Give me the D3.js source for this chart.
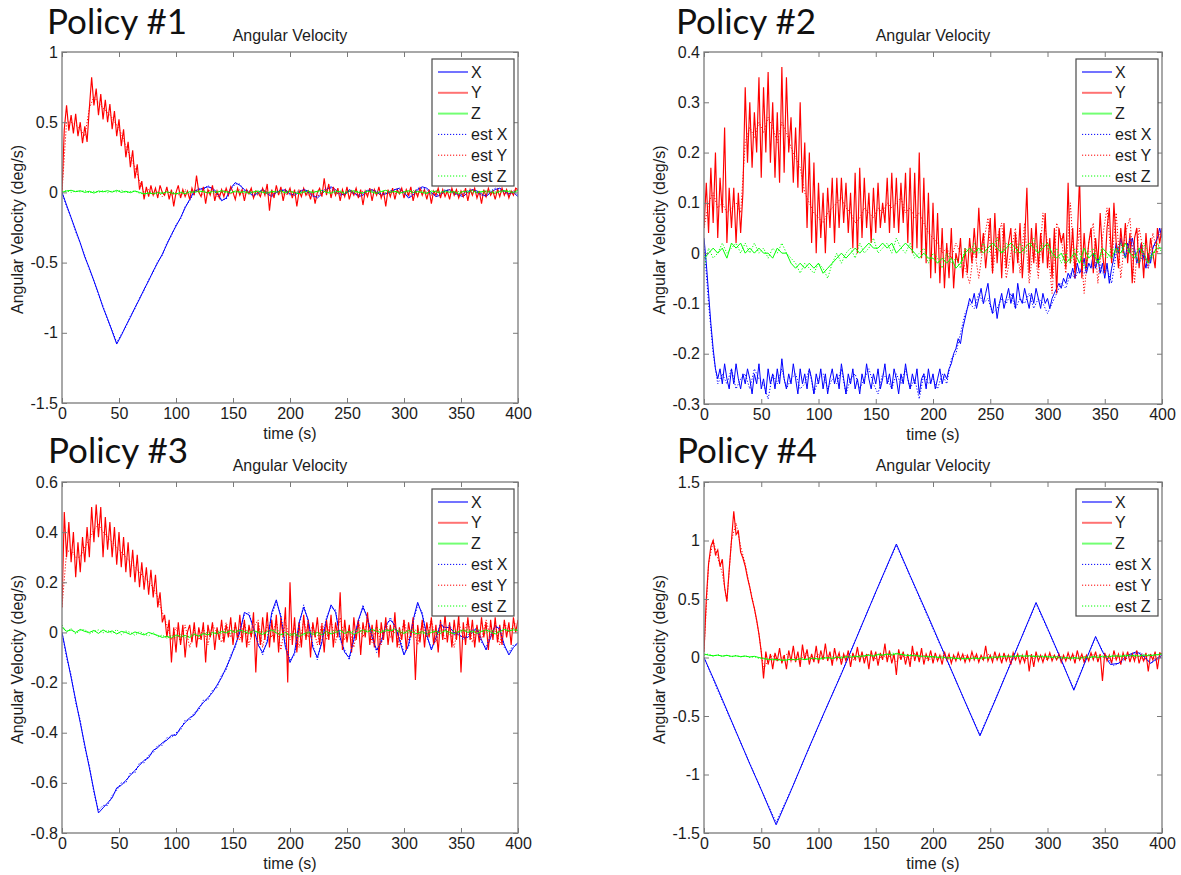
<!DOCTYPE html>
<html>
<head>
<meta charset="utf-8">
<script src="https://cdn.jsdelivr.net/npm/d3@7"></script>
<style>
  body { margin: 0; background: #fff; }
  svg { display: block; }
</style>
</head>
<body>
<svg id="chart" width="1181" height="875"></svg>
<script>
// ---------- shared axis data ----------
const timeDomain = [0, 400];
const timeTicks = [0, 50, 100, 150, 200, 250, 300, 350, 400];
const panelTitles = ["Policy #1", "Policy #2", "Policy #3", "Policy #4"];
const plotTitle = "Angular Velocity";
const xLabel = "time (s)";
const yLabel = "Angular Velocity (deg/s)";
const seriesNames = ["X", "Y", "Z", "est X", "est Y", "est Z"];

const yDomain1 = [-1.5, 1];
const yTicks1 = [-1.5, -1, -0.5, 0, 0.5, 1];
const yDomain2 = [-0.3, 0.4];
const yTicks2 = [-0.3, -0.2, -0.1, 0, 0.1, 0.2, 0.3, 0.4];
const yDomain3 = [-0.8, 0.6];
const yTicks3 = [-0.8, -0.6, -0.4, -0.2, 0, 0.2, 0.4, 0.6];
const yDomain4 = [-1.5, 1.5];
const yTicks4 = [-1.5, -1, -0.5, 0, 0.5, 1, 1.5];

// Arrays with 101 samples are every 4 s, arrays with 201 samples every 2 s.

// ---------- Policy #1 ----------
const x1 = [
  0, -0.09, -0.18, -0.27, -0.36, -0.46, -0.54, -0.63, -0.72, -0.82,
  -0.9, -0.99, -1.08, -1.02, -0.95, -0.89, -0.82, -0.76, -0.69, -0.63,
  -0.56, -0.5, -0.44, -0.37, -0.3, -0.24, -0.18, -0.11, -0.05, 0.01,
  0.02, 0.03, 0.04, 0.03, 0.0, -0.06, -0.04, 0.03, 0.07, 0.05,
  0.02, 0.0, -0.03, 0.0, 0.02, -0.01, -0.03, 0.0, 0.01, 0.02,
  -0.01, -0.02, 0.0, 0.02, 0.01, -0.02, -0.04, -0.01, 0.02, 0.04,
  0.02, -0.01, -0.02, 0.02, 0.0, -0.03, -0.02, 0.01, 0.02, 0.0,
  -0.02, -0.01, 0.0, 0.02, 0.03, 0.0, -0.04, -0.02, 0.02, 0.04,
  0.03, 0.0, -0.03, -0.02, 0.01, 0.02, 0.0, -0.02, -0.03, 0.0,
  0.02, 0.01, -0.01, -0.03, 0.0, 0.02, 0.03, 0.01, -0.01, 0.0,
  -0.03
];
const y1 = [
  0.0, 0.45, 0.62, 0.44, 0.55, 0.42, 0.56, 0.4, 0.5, 0.35,
  0.47, 0.36, 0.6, 0.82, 0.62, 0.74, 0.55, 0.7, 0.52, 0.66,
  0.5, 0.63, 0.45, 0.58, 0.4, 0.52, 0.33, 0.45, 0.25, 0.36,
  0.18, 0.3, 0.1, 0.2, 0.02, 0.08, -0.05, 0.04, -0.03, 0.05,
  -0.02, 0.03, -0.04, 0.05, 0.0, -0.02, 0.04, -0.05, 0.02, -0.1,
  0.0, 0.05, -0.04, 0.02, -0.03, 0.01, -0.05, 0.03, -0.02, 0.12,
  0.0, -0.03, 0.04, -0.08, 0.02, -0.02, 0.05, -0.06, 0.01, -0.04,
  0.02, -0.03, 0.03, -0.02, 0.04, 0.0, -0.05, 0.03, -0.02, 0.02,
  -0.06, 0.02, -0.01, 0.03, -0.04, 0.01, 0.0, -0.03, 0.03, -0.02,
  0.06, -0.13, 0.02, -0.04, 0.05, -0.02, 0.04, -0.06, 0.02, -0.01,
  0.03, -0.04, 0.02, -0.1, 0.01, -0.03, 0.03, -0.02, 0.01, -0.05,
  0.02, -0.08, 0.0, 0.03, -0.03, 0.1, -0.02, 0.06, -0.04, 0.04,
  -0.02, 0.03, -0.06, 0.02, -0.03, 0.04, -0.05, 0.01, -0.02, 0.03,
  -0.04, 0.02, -0.09, 0.01, -0.03, 0.03, -0.06, 0.02, -0.02, 0.04,
  -0.04, 0.01, -0.1, 0.02, -0.03, 0.03, -0.05, 0.02, -0.01, 0.03,
  -0.04, 0.02, -0.02, 0.04, -0.06, 0.01, -0.03, 0.03, -0.02, 0.02,
  -0.05, 0.02, -0.08, 0.01, -0.02, 0.03, -0.04, 0.02, -0.03, 0.01,
  -0.05, 0.03, -0.02, 0.02, -0.04, 0.01, -0.03, 0.03, -0.06, 0.02,
  -0.02, 0.03, -0.04, 0.01, -0.08, 0.02, -0.03, 0.03, -0.02, 0.01,
  -0.05, 0.02, -0.03, 0.03, -0.02, 0.02, -0.04, 0.01, -0.02, 0.03,
  0.02
];
const z1 = [
  0.0, 0.01, 0.015, 0.005, 0.012, 0.0, 0.008, -0.005, 0.01, 0.004,
  0.012, 0.002, 0.015, 0.0, 0.008, -0.002, 0.01, 0.0, -0.01, -0.005,
  -0.01, 0.0, -0.008, 0.005, -0.005, -0.012, 0.0, -0.01, 0.005, 0.0,
  0.01, 0.005, -0.005, 0.008, 0.0, 0.012, 0.005, -0.004, 0.01, 0.0,
  0.006, -0.008, 0.004, 0.01, 0.0, -0.006, 0.008, 0.002, 0.012, -0.004,
  0.006, 0.0, -0.01, 0.004, 0.01, -0.002, 0.008, 0.015, 0.0, -0.006,
  0.01, 0.004, -0.008, 0.006, 0.012, 0.0, -0.004, 0.01, 0.002, -0.008,
  0.006, 0.015, 0.0, 0.008, -0.006, 0.004, 0.012, -0.002, 0.006, 0.0,
  -0.008, 0.01, 0.004, -0.004, 0.012, 0.0, 0.006, -0.01, 0.008, 0.002,
  0.014, -0.004, 0.006, 0.01, 0.0, -0.006, 0.008, 0.012, 0.004, 0.0,
  0.015
];
const estX1 = [
  0, -0.1, -0.18, -0.28, -0.36, -0.45, -0.55, -0.63, -0.73, -0.81,
  -0.91, -0.98, -1.07, -1.01, -0.96, -0.88, -0.83, -0.75, -0.7, -0.62,
  -0.57, -0.49, -0.45, -0.36, -0.31, -0.23, -0.19, -0.1, -0.06, 0.0,
  0.03, 0.02, 0.05, 0.02, -0.01, -0.05, -0.05, 0.02, 0.06, 0.06,
  0.01, 0.01, -0.02, -0.01, 0.02, 0.0, -0.02, 0.0, 0.02, 0.01,
  -0.02, -0.01, 0.01, 0.02, 0.0, -0.03, -0.03, 0.01, 0.03, 0.03,
  0.0, -0.02, -0.01, 0.01, -0.01, -0.02, -0.01, 0.02, 0.01, 0.01,
  -0.01, -0.01, 0.01, 0.02, 0.02, -0.01, -0.03, -0.01, 0.03, 0.03,
  0.02, -0.01, -0.02, -0.01, 0.02, 0.01, -0.01, -0.02, -0.01, 0.01,
  0.02, 0.0, -0.02, -0.02, 0.01, 0.03, 0.02, 0.0, -0.02, 0.01,
  -0.02
];
const estY1 = [
  0.0, 0.5, 0.5, 0.48, 0.45, 0.4, 0.6, 0.68, 0.64, 0.6,
  0.57, 0.53, 0.48, 0.42, 0.33, 0.25, 0.18, 0.08, 0.0, 0.02,
  -0.02, 0.01, -0.03, 0.02, -0.02, 0.0, -0.03, 0.02, -0.01, 0.02,
  0.0, -0.02, 0.01, 0.02, -0.03, 0.0, 0.02, -0.01, 0.0, 0.02,
  -0.02, 0.01, 0.0, -0.02, 0.02, 0.0, -0.02, 0.01, 0.0, -0.02,
  0.01, -0.01, 0.02, 0.0, -0.02, 0.01, -0.03, 0.0, 0.03, 0.01,
  -0.01, 0.0, -0.02, 0.01, 0.0, -0.02, 0.01, -0.01, 0.02, 0.0,
  -0.02, 0.0, 0.01, -0.01, 0.02, 0.0, -0.02, 0.01, -0.01, 0.02,
  0.0, -0.02, 0.01, 0.0, -0.01, 0.02, 0.0, -0.02, 0.01, -0.01,
  0.02, 0.0, -0.02, 0.01, 0.0, -0.01, 0.02, 0.0, -0.02, 0.01,
  0.02
];
const estZ1 = [
  0.005, 0.012, 0.0, 0.01, 0.004, 0.014, -0.004, 0.008, 0.0, 0.012,
  -0.002, 0.01, 0.004, 0.016, -0.002, 0.006, 0.01, -0.006, -0.012, 0.0,
  -0.006, -0.012, 0.002, -0.004, 0.004, -0.008, -0.002, 0.006, -0.006, 0.01,
  0.0, 0.012, 0.002, -0.006, 0.01, 0.004, -0.002, 0.012, 0.0, 0.008,
  -0.004, 0.01, 0.0, -0.008, 0.012, 0.004, -0.002, 0.01, -0.006, 0.006,
  0.012, -0.004, 0.006, 0.0, -0.008, 0.01, 0.004, -0.002, 0.012, 0.004,
  -0.006, 0.01, 0.0, 0.014, -0.002, 0.008, -0.006, 0.004, 0.012, 0.0,
  0.01, -0.004, 0.012, 0.002, 0.008, -0.008, 0.004, 0.014, -0.002, 0.01,
  0.0, -0.006, 0.012, 0.006, -0.002, 0.01, -0.008, 0.006, 0.002, 0.012,
  -0.004, 0.01, 0.0, -0.006, 0.012, 0.004, 0.0, 0.008, 0.014, -0.002,
  0.01
];

// ---------- Policy #2 ----------
const x2 = [
  0.03, -0.02, -0.08, -0.14, -0.19, -0.23, -0.25, -0.23, -0.26, -0.22,
  -0.25, -0.27, -0.23, -0.26, -0.22, -0.25, -0.27, -0.24, -0.26, -0.23,
  -0.25, -0.28, -0.24, -0.26, -0.22, -0.27, -0.25, -0.28, -0.23, -0.26,
  -0.24, -0.27, -0.23, -0.26, -0.21, -0.25, -0.27, -0.24, -0.26, -0.22,
  -0.25, -0.28, -0.23, -0.26, -0.24, -0.27, -0.23, -0.25, -0.28, -0.24,
  -0.26, -0.23, -0.27, -0.24, -0.28, -0.25, -0.23, -0.26, -0.24, -0.27,
  -0.22, -0.25, -0.28, -0.24, -0.26, -0.23, -0.27, -0.25, -0.28, -0.24,
  -0.26, -0.22, -0.25, -0.27, -0.24, -0.26, -0.23, -0.27, -0.25, -0.22,
  -0.26, -0.24, -0.27, -0.23, -0.25, -0.28, -0.24, -0.26, -0.22, -0.25,
  -0.27, -0.24, -0.26, -0.23, -0.28, -0.25, -0.24, -0.27, -0.23, -0.26,
  -0.24, -0.27, -0.25, -0.23, -0.26, -0.24, -0.25, -0.23, -0.22, -0.2,
  -0.19, -0.17, -0.18, -0.15, -0.13, -0.11, -0.09, -0.1, -0.08, -0.11,
  -0.09, -0.07, -0.1, -0.08, -0.06, -0.1, -0.12, -0.09, -0.13, -0.1,
  -0.08, -0.11, -0.09, -0.07, -0.1, -0.08, -0.11, -0.06, -0.09, -0.1,
  -0.07, -0.09, -0.11, -0.08, -0.1, -0.07, -0.09, -0.11, -0.08, -0.1,
  -0.09, -0.11, -0.09, -0.08, -0.07, -0.06, -0.07, -0.05, -0.06, -0.04,
  -0.05, -0.03, -0.05, -0.02, -0.04, -0.03, -0.01, -0.04, -0.02, -0.03,
  0.0, -0.03, -0.01, -0.04, -0.02, -0.05, -0.02, -0.06, -0.03, -0.01,
  0.02, 0.0, 0.03, 0.01, -0.01, 0.02, 0.0, 0.03, 0.01, -0.02,
  0.0, 0.02, -0.01, -0.03, 0.0, -0.02, 0.01, 0.02, 0.03, 0.05,
  0.03
];
const y2 = [
  0.05, 0.14, 0.04, 0.17, 0.06, 0.2, 0.03, 0.15, 0.08, 0.25,
  0.02, 0.13, 0.05, 0.13, 0.02, 0.12, 0.04, 0.12, 0.33, 0.18,
  0.3, 0.17, 0.28, 0.2, 0.35, 0.15, 0.33, 0.2, 0.36, 0.18,
  0.3, 0.15, 0.28, 0.14, 0.37, 0.16, 0.35, 0.2, 0.27, 0.14,
  0.25, 0.13, 0.3, 0.12, 0.22, 0.05, 0.2, 0.02, 0.18, 0.0,
  0.14, 0.03, 0.12, 0.0, 0.13, 0.05, 0.15, 0.02, 0.15, 0.05,
  0.15, 0.06, 0.14, 0.04, 0.12, 0.01, 0.16, 0.0, 0.17, 0.03,
  0.15, 0.05, 0.12, 0.02, 0.13, 0.04, 0.14, 0.05, 0.1, 0.06,
  0.15, 0.04, 0.16, 0.05, 0.15, 0.04, 0.14, 0.06, 0.16, 0.02,
  0.17, 0.0, 0.16, 0.01, 0.2, -0.01, 0.15, -0.02, 0.12, -0.05,
  0.1, -0.04, 0.08, -0.06, 0.05, -0.07, 0.02, -0.05, 0.05, -0.07,
  0.0, -0.02, 0.03, -0.05, 0.01, -0.04, 0.03, -0.02, 0.05, -0.01,
  0.09, 0.0, 0.04, -0.03, 0.02, 0.07, -0.04, 0.08, -0.02, 0.05,
  -0.05, 0.06, -0.03, 0.02, 0.05, -0.04, 0.04, -0.02, 0.06, -0.05,
  0.02, 0.13, -0.04, 0.05, -0.02, 0.06, -0.03, 0.04, -0.02, 0.08,
  -0.03, 0.03, -0.05, 0.05, -0.08, 0.05, 0.02, 0.04, -0.03, 0.14,
  -0.02, 0.05, -0.04, 0.03, 0.15, -0.05, 0.04, -0.03, 0.02, 0.05,
  -0.04, 0.03, -0.02, 0.08, 0.0, -0.04, 0.05, 0.09, -0.02, 0.1,
  0.02, -0.03, 0.05, 0.0, 0.06, -0.02, 0.04, -0.06, 0.03, 0.05,
  -0.03, 0.02, -0.05, 0.04, -0.02, 0.03, 0.0, -0.03, 0.05, 0.02,
  0.05
];
const z2 = [
  -0.01, 0.0, 0.01, 0.0, 0.01, -0.01, 0.02, 0.01, 0.02, 0.0,
  0.01, 0.0, 0.01, 0.0, 0.0, -0.01, 0.01, 0.0, 0.0, -0.02,
  -0.03, -0.02, -0.03, -0.02, -0.03, -0.02, -0.04, -0.03, -0.02, -0.01,
  0.0, -0.01, 0.0, 0.01, 0.0, 0.01, 0.02, 0.01, 0.01, 0.02,
  0.01, 0.02, 0.0, 0.01, 0.02, 0.01, 0.0, -0.01, 0.0, -0.01,
  -0.01, -0.02, -0.01, -0.02, -0.01, -0.03, -0.02, 0.0, 0.01, 0.0,
  0.01, 0.0, 0.01, 0.02, 0.01, 0.0, 0.01, 0.02, 0.01, 0.0,
  0.01, 0.02, 0.01, 0.0, 0.01, 0.02, 0.0, -0.01, 0.0, -0.02,
  -0.01, 0.0, -0.02, 0.01, -0.01, 0.0, -0.02, 0.01, 0.0, -0.01,
  0.01, 0.0, 0.02, 0.0, -0.01, 0.01, 0.0, -0.02, 0.0, 0.01,
  0.01
];
const estX2 = [
  0.02, -0.1, -0.2, -0.26, -0.24, -0.26, -0.23, -0.27, -0.25, -0.24,
  -0.27, -0.23, -0.25, -0.26, -0.29, -0.24, -0.26, -0.23, -0.27, -0.25,
  -0.24, -0.27, -0.26, -0.23, -0.28, -0.25, -0.24, -0.27, -0.25, -0.26,
  -0.23, -0.28, -0.25, -0.24, -0.27, -0.25, -0.23, -0.26, -0.28, -0.24,
  -0.25, -0.27, -0.24, -0.26, -0.23, -0.27, -0.25, -0.29, -0.24, -0.26,
  -0.25, -0.27, -0.24, -0.26, -0.21, -0.2, -0.16, -0.12, -0.1, -0.11,
  -0.08, -0.1, -0.09, -0.12, -0.11, -0.09, -0.1, -0.08, -0.11, -0.09,
  -0.1, -0.08, -0.11, -0.09, -0.1, -0.12, -0.1, -0.08, -0.06, -0.07,
  -0.04, -0.05, -0.03, -0.04, -0.02, -0.03, -0.01, -0.04, -0.03, -0.06,
  0.0, 0.02, -0.01, 0.03, 0.0, -0.02, 0.0, -0.03, 0.01, 0.03,
  0.05
];
const estY2 = [
  0.05, 0.1, 0.12, 0.09, 0.1, 0.08, 0.09, 0.1, 0.08, 0.22,
  0.25, 0.23, 0.26, 0.24, 0.27, 0.25, 0.22, 0.26, 0.24, 0.21,
  0.19, 0.17, 0.12, 0.1, 0.08, 0.07, 0.06, 0.08, 0.09, 0.1,
  0.11, 0.09, 0.08, 0.06, 0.07, 0.09, 0.08, 0.07, 0.09, 0.08,
  0.1, 0.09, 0.1, 0.11, 0.08, 0.09, 0.07, 0.08, 0.06, 0.04,
  0.03, 0.02, 0.0, 0.01, -0.01, 0.02, 0.0, -0.03, -0.06, 0.01,
  -0.05, 0.02, 0.07, -0.04, 0.03, 0.06, -0.05, 0.0, 0.05, -0.04,
  0.06, -0.06, 0.02, -0.05, 0.08, 0.02, -0.08, 0.06, 0.03, -0.04,
  0.1, -0.05, 0.05, -0.08, 0.02, 0.06, -0.06, 0.03, 0.09, -0.02,
  0.08, -0.05, 0.04, 0.07, -0.06, 0.05, 0.0, -0.03, 0.04, 0.0,
  0.05
];
const estZ2 = [
  -0.03, 0.01, -0.01, 0.0, 0.02, 0.0, 0.01, 0.02, 0.0, 0.02,
  0.0, 0.02, 0.0, 0.01, -0.01, 0.01, 0.0, 0.02, 0.0, -0.01,
  -0.02, -0.04, -0.02, -0.03, -0.04, -0.02, -0.03, -0.05, -0.02, 0.0,
  -0.02, 0.0, 0.01, -0.01, 0.02, 0.0, 0.01, 0.03, 0.0, 0.01,
  0.02, 0.0, 0.03, 0.01, 0.0, 0.02, -0.01, 0.0, 0.01, -0.02,
  0.0, -0.01, -0.03, 0.0, -0.02, -0.01, -0.03, 0.01, 0.0, 0.02,
  0.0, 0.02, 0.0, 0.01, 0.03, 0.0, 0.02, 0.01, 0.0, 0.02,
  0.0, 0.01, 0.03, 0.0, 0.02, 0.01, -0.01, 0.01, -0.02, 0.0,
  -0.02, 0.01, 0.0, -0.03, 0.0, 0.01, -0.02, 0.0, -0.01, 0.01,
  0.0, 0.02, -0.01, 0.01, 0.0, -0.02, 0.02, 0.0, -0.01, 0.02,
  0.0
];

// ---------- Policy #3 ----------
const x3 = [
  0, -0.09, -0.18, -0.27, -0.36, -0.45, -0.54, -0.63, -0.72, -0.7,
  -0.68, -0.66, -0.62, -0.61, -0.59, -0.57, -0.55, -0.53, -0.51, -0.5,
  -0.47, -0.46, -0.44, -0.43, -0.41, -0.41, -0.38, -0.36, -0.34, -0.33,
  -0.3, -0.28, -0.26, -0.24, -0.21, -0.18, -0.14, -0.1, -0.05, 0.0,
  0.08, 0.07, 0.02, -0.05, -0.08, -0.04, 0.08, 0.13, 0.06, -0.06,
  -0.12, -0.08, 0.04, 0.1, 0.05, -0.06, -0.1, -0.04, 0.05, 0.11,
  0.08, -0.02, -0.08, -0.1, -0.03, 0.05, 0.1, 0.06, -0.02, -0.07,
  -0.04, 0.03, 0.05, 0.03, -0.03, -0.09, -0.05, 0.05, 0.12, 0.07,
  -0.01, -0.07, -0.02, 0.03, 0.02, 0.02, 0.0, -0.01, -0.02, -0.02,
  0.0, 0.02, -0.03, -0.07, -0.02, 0.03, 0.01, -0.05, -0.09, -0.06,
  -0.04
];
const y3 = [
  0.1, 0.48, 0.3, 0.44, 0.28, 0.4, 0.22, 0.36, 0.24, 0.38,
  0.28, 0.42, 0.3, 0.5, 0.36, 0.51, 0.38, 0.5, 0.3, 0.46,
  0.33, 0.44, 0.3, 0.42, 0.27, 0.4, 0.26, 0.38, 0.24, 0.36,
  0.22, 0.33, 0.2, 0.31, 0.18, 0.28, 0.17, 0.26, 0.15, 0.25,
  0.14, 0.23, 0.1, 0.16, 0.04, 0.07, -0.02, 0.05, -0.12, 0.02,
  -0.08, 0.04, -0.05, 0.03, -0.1, 0.0, 0.03, -0.04, 0.04, -0.06,
  0.02, -0.03, 0.04, -0.12, 0.03, -0.02, 0.04, -0.07, 0.02, -0.03,
  0.05, -0.04, 0.03, -0.02, 0.06, -0.05, 0.04, -0.03, 0.07, -0.04,
  0.05, -0.06, 0.03, -0.02, 0.08, -0.16, 0.04, -0.05, 0.06, -0.03,
  0.08, -0.06, 0.05, -0.04, 0.07, -0.08, 0.06, -0.02, 0.1, -0.2,
  0.2, -0.05, 0.06, -0.08, 0.04, -0.06, 0.07, -0.03, 0.05, -0.1,
  0.04, -0.02, 0.06, -0.05, 0.03, -0.08, 0.05, -0.03, 0.07, -0.06,
  0.04, -0.02, 0.16, -0.07, 0.05, -0.04, 0.03, -0.08, 0.06, -0.03,
  0.05, -0.09, 0.04, -0.02, 0.08, -0.05, 0.03, -0.06, 0.05, -0.1,
  0.04, -0.03, 0.06, -0.05, 0.03, -0.04, 0.08, -0.06, 0.02, -0.03,
  0.05, -0.07, 0.04, -0.02, 0.06, -0.19, 0.03, -0.04, 0.05, -0.06,
  0.04, -0.02, 0.06, -0.05, 0.03, -0.08, 0.05, -0.03, 0.07, -0.04,
  0.04, -0.06, 0.05, -0.03, 0.07, -0.16, 0.04, -0.05, 0.06, -0.03,
  0.05, -0.06, 0.03, -0.04, 0.06, -0.02, 0.04, -0.07, 0.05, -0.03,
  0.06, -0.04, 0.03, -0.05, 0.05, -0.02, 0.04, -0.05, 0.06, 0.0,
  0.05
];
const z3 = [
  0.02, 0.005, 0.01, 0.0, 0.012, 0.004, 0.0, 0.008, -0.004, 0.01,
  0.0, 0.006, -0.006, 0.004, 0.0, -0.008, 0.002, -0.004, -0.01, 0.0,
  -0.006, -0.012, -0.02, -0.015, -0.022, -0.01, -0.018, -0.012, -0.02, -0.008,
  -0.014, -0.004, -0.01, 0.0, -0.006, 0.004, -0.002, 0.008, 0.0, 0.01,
  0.004, -0.004, 0.008, 0.0, -0.008, 0.004, 0.01, -0.002, -0.01, 0.0,
  -0.012, -0.004, -0.016, -0.006, 0.002, -0.008, 0.0, -0.01, 0.004, -0.006,
  0.0, 0.008, -0.004, 0.004, -0.008, 0.0, 0.01, 0.002, 0.012, 0.004,
  0.0, 0.01, 0.006, 0.014, 0.002, -0.004, 0.008, 0.0, -0.006, 0.004,
  -0.008, 0.0, 0.006, -0.004, 0.008, 0.0, -0.006, 0.004, 0.01, 0.0,
  0.006, -0.004, 0.004, 0.01, 0.002, -0.006, 0.004, 0.012, 0.006, 0.01,
  0.008
];
const estX3 = [
  0, -0.1, -0.17, -0.28, -0.35, -0.46, -0.53, -0.64, -0.71, -0.69,
  -0.69, -0.65, -0.63, -0.6, -0.6, -0.56, -0.56, -0.52, -0.52, -0.49,
  -0.48, -0.45, -0.45, -0.42, -0.42, -0.4, -0.39, -0.35, -0.35, -0.32,
  -0.31, -0.27, -0.27, -0.23, -0.22, -0.17, -0.15, -0.09, -0.06, 0.01,
  0.07, 0.08, 0.01, -0.04, -0.09, -0.03, 0.07, 0.12, 0.07, -0.05,
  -0.11, -0.09, 0.03, 0.11, 0.04, -0.05, -0.11, -0.03, 0.06, 0.1,
  0.09, -0.03, -0.07, -0.11, -0.02, 0.04, 0.11, 0.05, -0.01, -0.08,
  -0.03, 0.02, 0.06, 0.02, -0.02, -0.08, -0.06, 0.04, 0.11, 0.08,
  -0.02, -0.06, -0.03, 0.04, 0.01, 0.03, -0.01, 0.0, -0.03, -0.01,
  0.01, 0.01, -0.04, -0.06, -0.01, 0.02, 0.02, -0.06, -0.08, -0.05,
  -0.05
];
const estY3 = [
  0.1, 0.32, 0.33, 0.3, 0.3, 0.34, 0.37, 0.41, 0.43, 0.4,
  0.38, 0.36, 0.34, 0.32, 0.3, 0.28, 0.26, 0.24, 0.22, 0.2,
  0.18, 0.14, 0.08, 0.03, -0.03, 0.02, -0.04, 0.03, -0.06, 0.01,
  -0.03, 0.02, -0.05, 0.03, 0.0, -0.04, 0.04, -0.02, 0.03, -0.03,
  0.04, -0.05, 0.02, 0.05, -0.06, 0.03, -0.02, 0.05, -0.07, 0.04,
  -0.03, 0.02, -0.06, 0.05, -0.02, 0.03, -0.05, 0.04, -0.03, 0.05,
  -0.04, 0.06, -0.03, 0.02, -0.06, 0.04, -0.02, 0.05, -0.04, 0.03,
  -0.05, 0.04, -0.02, 0.03, -0.06, 0.05, -0.03, 0.02, -0.05, 0.04,
  -0.02, 0.05, -0.04, 0.03, -0.03, 0.02, -0.06, 0.04, -0.02, 0.05,
  -0.04, 0.02, -0.03, 0.05, -0.02, 0.03, -0.05, 0.04, 0.0, 0.03,
  0.04
];
const estZ3 = [
  0.03, 0.0, 0.016, -0.006, 0.008, 0.012, -0.006, 0.004, 0.01, -0.002,
  0.008, -0.004, 0.012, -0.01, 0.006, 0.0, -0.012, 0.004, -0.006, -0.014,
  0.0, -0.018, -0.01, -0.025, -0.012, -0.02, -0.008, -0.022, -0.014, -0.004,
  -0.018, -0.008, 0.002, -0.012, 0.006, -0.004, 0.01, -0.006, 0.012, 0.004,
  -0.004, 0.01, -0.006, 0.006, 0.002, -0.01, 0.006, 0.012, -0.006, -0.012,
  -0.004, -0.016, 0.0, -0.012, -0.004, 0.002, -0.014, 0.004, -0.008, 0.002,
  0.008, -0.006, 0.01, -0.002, 0.006, 0.014, -0.004, 0.01, 0.0, 0.016,
  0.01, 0.004, 0.016, -0.002, 0.01, 0.002, -0.002, 0.012, 0.006, -0.006,
  0.004, 0.01, -0.008, 0.006, 0.002, -0.008, 0.01, 0.0, 0.004, 0.012,
  -0.002, 0.012, 0.006, -0.004, 0.01, 0.004, 0.0, 0.014, 0.004, 0.016,
  0.01
];

// ---------- Policy #4 ----------
// X follows a triangle-shaped swing; its corners are listed with their times.
const x4Time = [0, 10, 20, 30, 40, 50, 63, 75, 90, 105, 120, 135, 150, 168, 180, 195, 210, 225, 241, 255, 270, 290, 300, 312, 323, 332, 342, 348, 355, 362, 370, 378, 385, 390, 395, 400];
const x4 = [0, -0.22, -0.45, -0.68, -0.91, -1.13, -1.43, -1.16, -0.81, -0.47, -0.14, 0.21, 0.56, 0.97, 0.7, 0.37, 0.03, -0.31, -0.67, -0.35, 0.0, 0.47, 0.25, -0.02, -0.28, -0.06, 0.18, 0.05, -0.06, -0.05, 0.02, 0.05, 0.0, -0.05, -0.01, 0.02];
const estX4Time = [0, 12, 25, 38, 50, 63, 78, 95, 110, 125, 140, 155, 168, 182, 198, 212, 228, 241, 256, 272, 290, 302, 314, 323, 333, 342, 350, 358, 366, 374, 382, 390, 400];
const estX4 = [0, -0.28, -0.57, -0.86, -1.13, -1.41, -1.09, -0.7, -0.36, -0.02, 0.33, 0.67, 0.96, 0.65, 0.29, -0.02, -0.38, -0.66, -0.32, 0.05, 0.46, 0.2, -0.07, -0.27, -0.03, 0.17, 0.02, -0.07, -0.03, 0.03, 0.04, -0.05, 0.01];
const y4 = [
  0.05, 0.5, 0.8, 0.95, 1.0, 0.88, 0.92, 0.78, 0.84, 0.6,
  0.48, 0.75, 1.0, 1.25, 1.05, 1.08, 0.9, 0.85, 0.78, 0.68,
  0.6, 0.5, 0.42, 0.32, 0.2, 0.05, -0.18, 0.05, -0.06, 0.03,
  -0.1, 0.04, -0.03, 0.08, -0.05, 0.02, -0.1, 0.06, -0.03, 0.1,
  -0.04, 0.05, -0.08, 0.11, -0.02, 0.07, -0.06, 0.03, -0.04, 0.1,
  -0.05, 0.06, -0.02, 0.12, -0.03, 0.05, -0.07, 0.08, -0.02, 0.04,
  -0.06, 0.03, -0.03, 0.06, -0.08, 0.04, -0.02, 0.09, -0.04, 0.05,
  -0.05, 0.03, -0.1, 0.06, -0.03, 0.05, -0.07, 0.04, -0.02, 0.12,
  -0.04, 0.06, -0.05, 0.03, -0.15, 0.07, -0.02, 0.05, -0.06, 0.03,
  -0.08, 0.1, -0.03, 0.05, -0.04, 0.08, -0.06, 0.03, -0.02, 0.06,
  -0.05, 0.04, -0.03, 0.02, -0.06, 0.05, -0.02, 0.03, -0.05, 0.02,
  -0.03, 0.04, -0.02, 0.03, -0.04, 0.02, -0.03, 0.05, -0.02, 0.03,
  -0.04, 0.02, -0.02, 0.1, -0.03, 0.02, -0.04, 0.05, -0.02, 0.03,
  -0.05, 0.04, -0.03, 0.02, -0.06, 0.04, -0.02, 0.03, -0.05, 0.02,
  -0.04, 0.06, -0.12, 0.03, -0.08, 0.05, -0.03, 0.02, -0.04, 0.03,
  -0.02, 0.04, -0.03, 0.02, -0.02, 0.03, -0.04, 0.02, -0.03, 0.04,
  -0.02, 0.03, -0.05, 0.06, -0.02, 0.03, -0.04, 0.02, -0.03, 0.04,
  -0.02, 0.05, -0.04, 0.03, -0.2, 0.04, -0.03, 0.02, -0.05, 0.06,
  -0.02, 0.03, -0.06, 0.04, -0.02, 0.05, -0.04, 0.03, -0.03, 0.06,
  -0.05, 0.02, -0.03, 0.04, -0.12, 0.03, -0.02, 0.05, -0.1, 0.04,
  0.03
];
const z4 = [
  0.03, 0.02, 0.015, 0.02, 0.012, 0.018, 0.01, 0.014, 0.008, 0.012,
  0.005, 0.01, 0.0, -0.01, -0.015, -0.02, -0.015, -0.025, -0.02, -0.015,
  -0.02, -0.01, -0.018, -0.012, -0.005, -0.015, -0.008, 0.0, -0.01, 0.005,
  -0.005, 0.008, 0.002, 0.012, 0.005, 0.015, 0.02, 0.01, 0.025, 0.02,
  0.03, 0.02, 0.035, 0.025, 0.02, 0.015, 0.02, 0.01, 0.012, 0.005,
  0.01, 0.0, 0.005, -0.005, 0.0, -0.01, -0.005, -0.012, -0.008, -0.005,
  -0.01, 0.0, -0.005, 0.005, 0.0, 0.01, 0.005, 0.012, 0.008, 0.015,
  0.01, 0.015, 0.008, 0.012, 0.005, 0.01, 0.0, 0.008, -0.005, 0.0,
  -0.008, 0.0, -0.01, 0.005, -0.005, 0.01, 0.0, 0.012, 0.005, 0.01,
  0.015, 0.008, 0.02, 0.012, 0.018, 0.01, 0.022, 0.015, 0.02, 0.025,
  0.03
];
const estY4 = [
  0.05, 0.8, 1.0, 0.85, 0.72, 0.48, 1.0, 1.15, 0.95, 0.8,
  0.6, 0.42, 0.2, -0.1, -0.02, 0.02, -0.03, 0.0, 0.03, -0.04,
  0.01, -0.03, 0.04, 0.0, -0.02, 0.03, -0.01, 0.02, -0.03, 0.01,
  -0.02, 0.02, 0.0, -0.03, 0.02, -0.01, 0.03, 0.0, -0.02, 0.02,
  -0.01, 0.03, -0.04, 0.02, 0.0, -0.02, 0.04, -0.01, 0.02, -0.03,
  0.01, -0.02, 0.02, 0.0, -0.03, 0.01, -0.01, 0.02, -0.02, 0.01,
  0.0, -0.02, 0.03, -0.01, 0.01, -0.03, 0.02, 0.0, -0.02, 0.01,
  -0.03, 0.02, -0.01, 0.01, 0.0, -0.02, 0.02, -0.01, 0.01, -0.02,
  0.0, 0.02, -0.02, 0.01, -0.01, 0.03, -0.02, 0.0, 0.02, -0.03,
  0.01, 0.0, -0.02, 0.02, -0.01, 0.01, -0.03, 0.02, 0.0, -0.02,
  0.02
];
const estZ4 = [
  0.02, 0.03, 0.01, 0.025, 0.008, 0.02, 0.005, 0.018, 0.004, 0.015,
  0.0, 0.008, -0.008, -0.004, -0.02, -0.012, -0.025, -0.016, -0.028, -0.012,
  -0.024, -0.006, -0.02, -0.004, -0.012, -0.01, 0.002, -0.006, 0.004, -0.002,
  0.006, 0.0, 0.014, 0.002, 0.018, 0.01, 0.026, 0.016, 0.03, 0.018,
  0.026, 0.04, 0.028, 0.032, 0.016, 0.024, 0.012, 0.018, 0.004, 0.01,
  -0.002, 0.008, -0.008, 0.004, -0.012, 0.0, -0.016, -0.004, -0.012, 0.0,
  -0.006, -0.014, 0.004, -0.008, 0.008, 0.002, 0.016, 0.004, 0.018, 0.008,
  0.018, 0.006, 0.016, 0.002, 0.014, -0.004, 0.012, -0.008, 0.004, -0.006,
  0.002, -0.012, 0.006, -0.008, 0.014, -0.004, 0.016, 0.002, 0.012, 0.018,
  0.006, 0.02, 0.004, 0.024, 0.008, 0.02, 0.014, 0.026, 0.016, 0.022,
  0.028
];

// ---------- styling & layout ----------
const seriesColors = ["#0000ff", "#ff0000", "#00ff00", "#0000ff", "#ff0000", "#00ff00"];
const dotted = [false, false, false, true, true, true];
const tickFont = "'Liberation Sans', Arial, Helvetica, sans-serif";
const headFont = "Lato, 'Open Sans', sans-serif";
const axisGray = "#7a7a7a";
const textColor = "#1c1c1c";

// plot rectangle and label anchors of each panel
const frames = [
  { left: 62,  top: 52,  right: 518,  bottom: 403, headX: 47,  headY: 34,  yLabX: 22.5 },
  { left: 704, top: 52,  right: 1162, bottom: 404, headX: 676, headY: 34,  yLabX: 664.5 },
  { left: 62,  top: 482, right: 518,  bottom: 833, headX: 48,  headY: 463, yLabX: 22.5 },
  { left: 704, top: 482, right: 1162, bottom: 833, headX: 677, headY: 463, yLabX: 664.5 }
];

const panels = [
  { yDomain: yDomain1, yTicks: yTicks1,
    series: [[x1], [y1], [z1], [estX1], [estY1], [estZ1]] },
  { yDomain: yDomain2, yTicks: yTicks2,
    series: [[x2], [y2], [z2], [estX2], [estY2], [estZ2]] },
  { yDomain: yDomain3, yTicks: yTicks3,
    series: [[x3], [y3], [z3], [estX3], [estY3], [estZ3]] },
  { yDomain: yDomain4, yTicks: yTicks4,
    series: [[x4, x4Time], [y4], [z4], [estX4, estX4Time], [estY4], [estZ4]] }
];

// pair each value with its time; evenly sampled arrays span the whole run
function toPoints(values, times) {
  const step = (timeDomain[1] - timeDomain[0]) / (values.length - 1);
  return values.map((v, i) => [times ? times[i] : timeDomain[0] + i * step, v]);
}

const fmt = v => String(+v.toFixed(2));
const svg = d3.select("#chart");

panels.forEach((p, pi) => {
  const f = frames[pi];
  const x = d3.scaleLinear().domain(timeDomain).range([f.left, f.right]);
  const y = d3.scaleLinear().domain(p.yDomain).range([f.bottom, f.top]);
  const g = svg.append("g");

  const clipId = "clip" + pi;
  g.append("clipPath").attr("id", clipId)
    .append("rect")
    .attr("x", f.left).attr("y", f.top)
    .attr("width", f.right - f.left).attr("height", f.bottom - f.top);

  // traces
  const line = d3.line().x(d => x(d[0])).y(d => y(d[1]));
  const traces = g.append("g").attr("clip-path", `url(#${clipId})`);
  p.series.forEach((s, si) => {
    traces.append("path")
      .datum(toPoints(s[0], s[1]))
      .attr("d", line)
      .attr("fill", "none")
      .attr("stroke", seriesColors[si])
      .attr("stroke-width", si === 1 ? 1.15 : 1)
      .attr("stroke-dasharray", dotted[si] ? "1.2 1.8" : null);
  });

  // axes: labelled bottom/left, mirrored inward ticks on top/right
  const styleAxis = sel => {
    sel.select(".domain").remove();
    sel.selectAll(".tick line").attr("stroke", axisGray).attr("stroke-width", 1);
    sel.selectAll(".tick text")
      .attr("fill", textColor)
      .style("font-family", tickFont)
      .style("font-size", "16px");
  };
  g.append("g").attr("transform", `translate(0,${f.bottom})`)
    .call(d3.axisBottom(x).tickValues(timeTicks).tickSizeInner(-5).tickSizeOuter(0).tickPadding(5).tickFormat(fmt))
    .call(styleAxis);
  g.append("g").attr("transform", `translate(0,${f.top})`)
    .call(d3.axisTop(x).tickValues(timeTicks).tickSizeInner(-5).tickSizeOuter(0).tickFormat(() => ""))
    .call(styleAxis);
  g.append("g").attr("transform", `translate(${f.left},0)`)
    .call(d3.axisLeft(y).tickValues(p.yTicks).tickSizeInner(-5).tickSizeOuter(0).tickPadding(4).tickFormat(fmt))
    .call(styleAxis);
  g.append("g").attr("transform", `translate(${f.right},0)`)
    .call(d3.axisRight(y).tickValues(p.yTicks).tickSizeInner(-5).tickSizeOuter(0).tickFormat(() => ""))
    .call(styleAxis);

  g.append("rect")
    .attr("x", f.left).attr("y", f.top)
    .attr("width", f.right - f.left).attr("height", f.bottom - f.top)
    .attr("fill", "none").attr("stroke", axisGray).attr("stroke-width", 1.3);

  // titles and axis labels
  g.append("text")
    .attr("x", (f.left + f.right) / 2).attr("y", f.top - 11)
    .attr("text-anchor", "middle")
    .attr("fill", textColor)
    .style("font-family", tickFont).style("font-size", "16px")
    .text(plotTitle);
  g.append("text")
    .attr("x", (f.left + f.right) / 2).attr("y", f.bottom + 36)
    .attr("text-anchor", "middle")
    .attr("fill", textColor)
    .style("font-family", tickFont).style("font-size", "16px")
    .text(xLabel);
  g.append("text")
    .attr("transform", `translate(${f.yLabX},${(f.top + f.bottom) / 2 + 2}) rotate(-90)`)
    .attr("text-anchor", "middle")
    .attr("fill", textColor)
    .style("font-family", tickFont).style("font-size", "16px")
    .text(yLabel);
  g.append("text")
    .attr("x", f.headX).attr("y", f.headY)
    .attr("fill", "#111")
    .style("font-family", headFont).style("font-size", "35px")
    .text(panelTitles[pi]);

  // legend
  const lg = g.append("g").attr("transform", `translate(${f.right - 86},${f.top + 7})`);
  lg.append("rect")
    .attr("width", 82).attr("height", 127)
    .attr("fill", "#fff").attr("stroke", "#4a4a4a").attr("stroke-width", 1.2);
  seriesNames.forEach((name, si) => {
    const ry = 13 + si * 20.8;
    lg.append("line")
      .attr("x1", 6).attr("x2", 36).attr("y1", ry).attr("y2", ry)
      .attr("stroke", seriesColors[si])
      .attr("stroke-opacity", dotted[si] ? 1 : 0.55)
      .attr("stroke-width", dotted[si] ? 1 : 2)
      .attr("stroke-dasharray", dotted[si] ? "1.2 1.8" : null);
    lg.append("text")
      .attr("x", 39).attr("y", ry)
      .attr("dy", "0.35em")
      .attr("fill", textColor)
      .style("font-family", tickFont).style("font-size", "16px")
      .text(name);
  });
});
</script>
</body>
</html>
